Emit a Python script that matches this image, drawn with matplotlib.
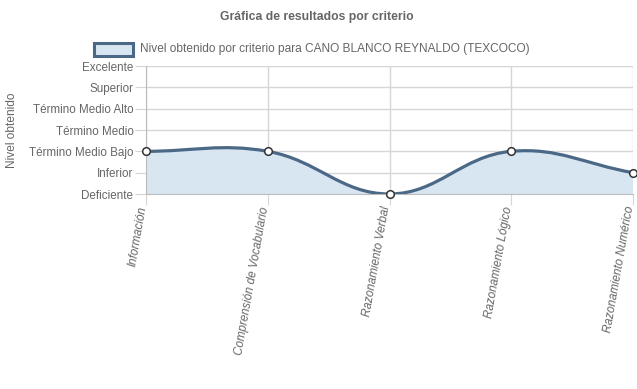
import numpy as np
import matplotlib
matplotlib.use("Agg")
import matplotlib.pyplot as plt
import matplotlib.transforms as mtrans
from matplotlib.path import Path
from matplotlib.patches import PathPatch, Rectangle

plt.rcParams['font.family'] = ['Liberation Sans', 'DejaVu Sans']

title = "Gráfica de resultados por criterio"
series_label = "Nivel obtenido por criterio para CANO BLANCO REYNALDO (TEXCOCO)"
y_title = "Nivel obtenido"
levels = ["Deficiente", "Inferior", "Término Medio Bajo", "Término Medio",
          "Término Medio Alto", "Superior", "Excelente"]
categories = ["Información", "Comprensión de Vocabulario", "Razonamiento Verbal",
              "Razonamiento Lógico", "Razonamiento Numérico"]
values = [2, 2, 0, 2, 1]

W, H = 637, 389
fig = plt.figure(figsize=(W / 100, H / 100), dpi=100)
L, R, T, B = 146, 633, 66, 194
ax = fig.add_axes([L / W, 1 - B / H, (R - L) / W, (B - T) / H])

n = len(categories)
ax.set_xlim(0, n - 1)
ax.set_ylim(0, len(levels) - 1)

line_c = '#4b6987'
fill_c = '#d8e6f2'
grid_c = '#d6d6d6'
text_c = '#666666'

# Chart.js-like bezier (tension 0.4) computed in pixel space
sx = (R - L) / (n - 1)
sy = (B - T) / (len(levels) - 1)
pts = np.array([[i * sx, v * sy] for i, v in enumerate(values)], dtype=float)
t = 0.4
prev_cp, next_cp = [], []
for i in range(n):
    p1 = pts[i]
    p0 = pts[i - 1] if i > 0 else p1
    p2 = pts[i + 1] if i < n - 1 else p1
    d01 = np.hypot(*(p1 - p0))
    d12 = np.hypot(*(p2 - p1))
    tot = d01 + d12
    s01 = d01 / tot if tot else 0
    s12 = d12 / tot if tot else 0
    fa, fb = t * s01, t * s12
    prev_cp.append(p1 - fa * (p2 - p0))
    next_cp.append(p1 + fb * (p2 - p0))

def to_data(p):
    return (p[0] / sx, p[1] / sy)

verts = [to_data(pts[0])]
codes = [Path.MOVETO]
for i in range(n - 1):
    verts += [to_data(next_cp[i]), to_data(prev_cp[i + 1]), to_data(pts[i + 1])]
    codes += [Path.CURVE4] * 3
line_path = Path(verts, codes)

fill_verts = verts + [(n - 1, 0), (0, 0), verts[0]]
fill_codes = codes + [Path.LINETO, Path.LINETO, Path.CLOSEPOLY]
ax.add_patch(PathPatch(Path(fill_verts, fill_codes), facecolor=fill_c, edgecolor='none', zorder=1))
ax.add_patch(PathPatch(line_path, facecolor='none', edgecolor=line_c, lw=2.3, zorder=3, capstyle='round'))
ax.plot(range(n), values, linestyle='none', marker='o', ms=5.5, mfc='white', mec='#333333', mew=1.1, zorder=4, clip_on=False)

ax.set_yticks(range(len(levels)))
ax.set_yticklabels(levels)
ax.set_xticks(range(n))
ax.set_xticklabels(categories, rotation=80, ha='right', va='center', rotation_mode='anchor', fontstyle='italic')
ax.tick_params(axis='y', length=8, color=grid_c, labelcolor=text_c, labelsize=8.4, pad=1)
ax.tick_params(axis='x', length=8, color=grid_c, labelcolor=text_c, labelsize=8.4, pad=1)
shift = mtrans.ScaledTransform if False else None
for lab in ax.get_xticklabels():
    lab.set_transform(lab.get_transform() + mtrans.ScaledTranslation(-3 / 100, 0, fig.dpi_scale_trans))
ax.grid(True, color=grid_c, lw=1, zorder=0)
ax.set_axisbelow(True)
for s in ['top', 'right']:
    ax.spines[s].set_visible(False)
ax.spines['left'].set_color('#bbbbbb')
ax.spines['bottom'].set_color('#bbbbbb')

fig.text(12 / W, 1 - 130 / H, y_title, rotation=90, ha='center', va='center', color=text_c, fontsize=8.6)
fig.text(317 / W, 1 - 17 / H, title, ha='center', va='center', color=text_c, fontsize=8.8, fontweight='bold')

fig.patches.append(Rectangle((94 / W, 1 - 56 / H), 39 / W, 13 / H, transform=fig.transFigure,
                             facecolor=fill_c, edgecolor=line_c, lw=2.2, figure=fig))
fig.text(140 / W, 1 - 49 / H, series_label, ha='left', va='center', color=text_c, fontsize=8.6)

fig.savefig("out.png", dpi=100)
